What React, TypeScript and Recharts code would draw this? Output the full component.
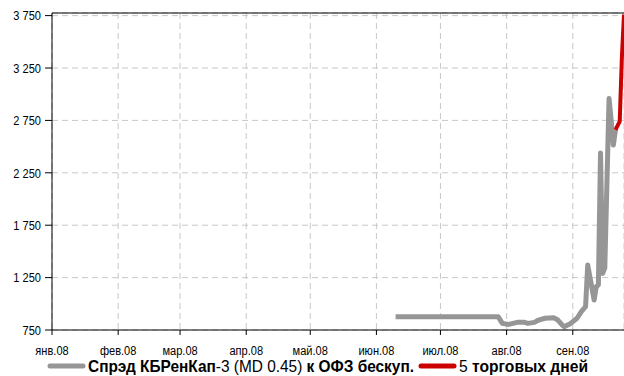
import { LineChart, Line, XAxis, YAxis, CartesianGrid, Legend, ReferenceLine } from 'recharts';

// x = days since 1 Jan 2008
const monthTicks = [0, 31, 60, 91, 121, 152, 182, 213, 244];
const monthLabels = ['янв.08', 'фев.08', 'мар.08', 'апр.08', 'май.08', 'июн.08', 'июл.08', 'авг.08', 'сен.08'];
const yTicks = [750, 1250, 1750, 2250, 2750, 3250, 3750];

const spreadDays = [161, 209, 211, 214, 218, 221, 223, 226, 228, 231, 235, 237, 239, 240, 243, 246, 248, 250, 251, 252, 254, 255, 256, 257, 258, 259, 261, 262, 263, 264];
const spreadValues = [877, 877, 813, 803, 823, 825, 813, 823, 845, 862, 868, 845, 798, 782, 813, 862, 925, 972, 1370, 1259, 1036, 1163, 1180, 2440, 1290, 1340, 2960, 2750, 2515, 2660];

const lastDays = [264, 265, 266, 267, 268];
const lastValues = [2660, 2700, 2740, 3350, 3760];

const spreadData = spreadDays.map((d, i) => ({ day: d, spread: spreadValues[i] }));
const lastData = lastDays.map((d, i) => ({ day: d, last: lastValues[i] }));

// no Arial Narrow here, so Liberation Sans squeezed horizontally
const FONT = '"Liberation Sans", Arial, sans-serif';
const GRAY = '#969696';
const RED = '#cc0000';
const NARROW = 0.82;

const fmt = (v: number) => (v >= 1000 ? `${Math.floor(v / 1000)} ${String(v % 1000).padStart(3, '0')}` : String(v));

const XTick = (props: any) => {
  const { x, y, payload } = props;
  return (
    <g transform={`translate(${x},${y})`}>
      <text transform={`scale(${NARROW},1)`} textAnchor="middle" dy="0.71em" fontFamily={FONT} fontSize={13.5} fill="#000">
        {monthLabels[monthTicks.indexOf(payload.value)]}
      </text>
    </g>
  );
};

const YTick = (props: any) => {
  const { x, y, payload } = props;
  return (
    <g transform={`translate(${x},${y})`}>
      <text transform={`scale(${NARROW},1)`} textAnchor="end" dy="0.355em" fontFamily={FONT} fontSize={13.5} fill="#000">
        {fmt(payload.value)}
      </text>
    </g>
  );
};

function LegendBox() {
  const t = { fontFamily: FONT, fontSize: 16.5, fill: '#000', lengthAdjust: 'spacingAndGlyphs' as const };
  return (
    <svg width={624} height={20} style={{ display: 'block', marginTop: -4, overflow: 'visible' }}>
      <line x1={50} y1={10} x2={83} y2={10} stroke={GRAY} strokeWidth={5} strokeLinecap="round" />
      <text {...t} x={88} y={16} textLength={326}>
        <tspan fontWeight="bold">Спрэд КБРенКап</tspan>
        <tspan>{'-3 (MD 0.45) '}</tspan>
        <tspan fontWeight="bold">к ОФЗ бескуп.</tspan>
      </text>
      <line x1={421} y1={10} x2={454} y2={10} stroke={RED} strokeWidth={5} strokeLinecap="round" />
      <text {...t} x={459} y={16} textLength={129}>
        <tspan>{'5 '}</tspan>
        <tspan fontWeight="bold">торговых дней</tspan>
      </text>
    </svg>
  );
}

export default function App() {
  return (
    <div style={{ position: 'absolute', left: 0, top: 0, width: 624, height: 376, background: '#fff' }}>
      <LineChart width={624} height={376} margin={{ top: 13, right: 0, bottom: 0, left: 0 }}>
        <CartesianGrid stroke="#c8c8c8" strokeDasharray="6 4" />
        <XAxis
          dataKey="day"
          type="number"
          domain={[0, 268]}
          ticks={monthTicks}
          allowDuplicatedCategory={false}
          axisLine={{ stroke: '#000' }}
          tickLine={{ stroke: '#000' }}
          tickSize={5}
          tickMargin={10}
          height={30}
          tick={<XTick />}
        />
        <YAxis
          type="number"
          domain={[750, 3775]}
          ticks={yTicks}
          axisLine={{ stroke: '#000' }}
          tickLine={{ stroke: '#000' }}
          tickSize={7}
          tickMargin={4}
          width={52}
          allowDataOverflow
          tick={<YTick />}
        />
        <ReferenceLine y={3775} stroke="#000" />
        <Legend verticalAlign="bottom" height={16} wrapperStyle={{ left: 0, width: 624 }} content={() => <LegendBox />} />
        <Line data={spreadData} dataKey="spread" stroke={GRAY} strokeWidth={5} dot={false} isAnimationActive={false} strokeLinejoin="round" />
        <Line data={lastData} dataKey="last" stroke={RED} strokeWidth={4} dot={false} isAnimationActive={false} strokeLinejoin="round" />
      </LineChart>
    </div>
  );
}
